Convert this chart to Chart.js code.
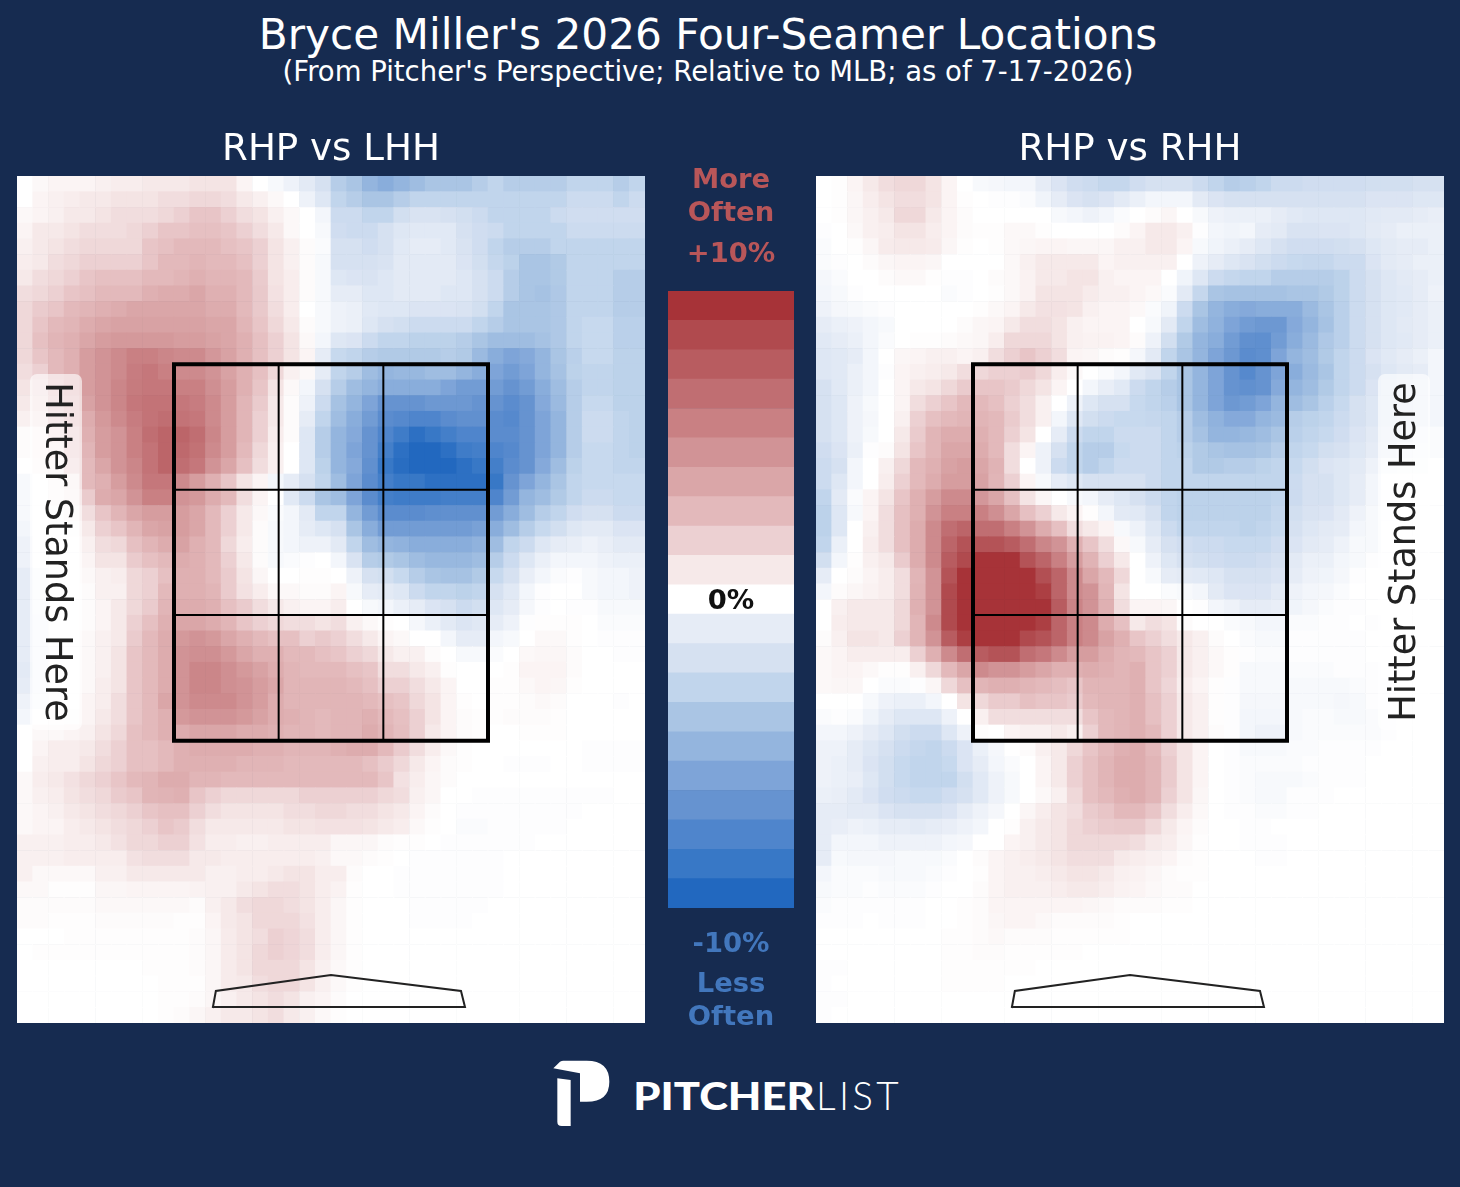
<!DOCTYPE html>
<html>
<head>
<meta charset="utf-8">
<title>Bryce Miller Four-Seamer Locations</title>
<script src="https://cdn.jsdelivr.net/npm/chart.js@4"></script>
<style>
  html, body { margin: 0; padding: 0; background: #162b50; }
  #page { position: relative; width: 1460px; height: 1187px; overflow: hidden; background: #162b50; font-family: "DejaVu Sans", sans-serif; color: #fff; }
  .box { position: absolute; }
  .txt { position: absolute; left: 0; width: 1416px; text-align: center; line-height: 1; white-space: nowrap; }
  .key { position: absolute; left: 631px; width: 200px; text-align: center; line-height: 1; font-weight: bold; font-size: 27.4px; }
  .more { color: #b85659; }
  .less { color: #4277bd; }
</style>
</head>
<body>
<div id="page">
  <div class="txt" style="top:14px;font-size:42.2px">Bryce Miller's 2026 Four-Seamer Locations</div>
  <div class="txt" style="top:58px;font-size:27.5px">(From Pitcher's Perspective; Relative to MLB; as of 7-17-2026)</div>

  <div class="box" style="left:17px;top:125px;width:628px;height:898px"><canvas id="leftChart"></canvas></div>
  <div class="box" style="left:816px;top:125px;width:628px;height:898px"><canvas id="rightChart"></canvas></div>
  <div class="box" style="left:668px;top:291px;width:126px;height:617px"><canvas id="barChart"></canvas></div>

  <div class="key more" style="top:165px">More</div>
  <div class="key more" style="top:198px">Often</div>
  <div class="key more" style="top:239px">+10%</div>
  <div class="key" style="top:586px;color:#111">0%</div>
  <div class="key less" style="top:929px">-10%</div>
  <div class="key less" style="top:969px">Less</div>
  <div class="key less" style="top:1002px">Often</div>

  <svg class="box" style="left:530px;top:1040px" width="400" height="110" viewBox="0 0 1200 330">
    <path fill="#fff" d="M70,85 L90,65 Q95,62 100,62 L170,62 Q238,62 238,125 Q238,185 170,185 L150,185 L150,100 Z"/>
    <path fill="#fff" d="M82,115 L122,120 L122,258 L95,258 Q82,258 82,245 Z"/>
    <text x="310" y="210" font-family="Lato, sans-serif" font-weight="900" font-size="116" fill="#fff" textLength="544" lengthAdjust="spacingAndGlyphs">PITCHER</text>
    <text x="858" y="210" font-family="Lato, sans-serif" font-weight="300" font-size="116" fill="#fff" textLength="248" lengthAdjust="spacing">LIST</text>
  </svg>
</div>

<script>
// ── Data ──────────────────────────────────────────────────────────────────────
// percent above/below MLB per cell, top row first; a short row is 0 to its end
const leftCells = [
  [0,.3,.5,.5,.5,.7,.8,.8,1,1,1,1.2,1.2,1.2,.5,0,-.3,-.7,-1.2,-2,-3.5,-4,-5,-5.5,-5,-4.5,-4,-4,-4,-3.5,-3,-3.5,-3.5,-3.5,-3.5,-3,-3,-3,-3.5,-3],
  [0,.5,.7,.8,1,1,1.2,1.2,1.2,1.5,1.5,1.7,1.7,1.5,1,.7,.3,0,-.7,-1.5,-3,-3.5,-4,-4,-3.5,-3,-3,-3,-3,-3,-3,-3,-3,-3,-3,-2.5,-2.5,-2.5,-3,-2.5],
  [.3,.5,.7,1,1,1.2,1.5,1.5,1.5,1.7,2,2.5,2.5,2,1.5,1.2,.7,.3,0,-.5,-2.5,-2.5,-3,-3,-2.2,-1.8,-1.8,-2,-2.2,-2.5,-3,-3,-3,-3,-2.5,-2.3,-2.3,-2.3,-2.3,-2.3],
  [.5,1,1,1.2,1.5,1.5,1.5,1.7,2,2.5,2.5,2.7,2.7,2.5,2,1.5,1,.3,0,-.3,-2.3,-2.5,-2.5,-2,-1.5,-1.3,-1.3,-1.3,-2,-2.3,-2.5,-3,-3,-3,-3,-2.5,-2.5,-2.5,-2.5,-2.5],
  [.7,1,1.2,1.5,1.7,1.7,1.7,1.7,2.5,2.7,3,3,3,2.7,2.5,2,1.2,.7,.2,-.2,-2,-2,-2.3,-2,-1.3,-1,-1,-1.3,-1.8,-2.3,-3,-3.5,-3.5,-3.5,-3,-3,-3,-3,-3,-3],
  [.8,1,1.5,1.7,2,2,2,2,2.5,3,3,3.2,3,3,2.7,2,1.2,.7,.2,-.3,-2,-2,-2,-1.8,-1.2,-1.2,-1.2,-1.2,-1.7,-2.2,-2.8,-3.2,-4,-4,-3.7,-3,-3,-3,-3,-3],
  [1,1.5,1.7,2,2.5,2.7,2.7,2.7,3,3,3.2,3.5,3.2,3.2,3,2.2,1.2,.8,.2,-.3,-1.5,-1.7,-1.8,-1.5,-1.2,-1.2,-1.2,-1.2,-1.5,-2,-2.5,-3.5,-4,-4,-3.7,-3,-3,-3,-3.5,-3.5],
  [1.5,1.7,2,2.5,2.7,3,3,3,3.5,3.7,3.7,4,3.5,3.5,3,2.3,1.3,.8,.2,-.3,-1,-1,-1.5,-1.5,-1.2,-1.2,-1.2,-1.5,-1.5,-2,-2.5,-3.5,-4,-4.2,-3.8,-3,-3,-3,-3.5,-3.5],
  [1.7,2.2,2.5,3,3.2,3.5,3.7,4,4,4,4,4,3.7,3.7,3,2.3,1.5,.8,0,-.3,-.7,-.8,-1.3,-1.5,-1.5,-1.7,-1.7,-1.7,-1.8,-2.2,-3,-4,-4,-4,-3.8,-3,-3,-3,-3.5,-3.5],
  [1.7,2.5,3,3.2,3.7,4,4.2,4.2,4.2,4.2,4.2,4.2,4,4,3.2,2.5,1.7,1,.2,-.3,-.7,-.8,-1.5,-2,-2.2,-2.5,-2.5,-2.5,-2.5,-3,-3.5,-4,-4,-4,-3.8,-3,-2.7,-2.7,-3.3,-3.3],
  [1.7,2.7,3.2,3.5,4,4.5,4.7,4.7,4.7,4.7,4.5,4.5,4.2,4,3.5,2.7,2,1.2,.3,-.5,-1.5,-1.7,-2.5,-3,-3,-3.2,-3.2,-3.2,-3.5,-4,-4.5,-4.5,-4.5,-4.2,-3.8,-3,-2.7,-2.7,-3.3,-3.3],
  [1.7,2.5,3,3.5,4.5,5,5.5,6,6,5.7,5.5,5.5,4.8,4.2,3.5,2.7,2,1.2,.5,-1,-2.7,-3,-3.5,-3.7,-3.7,-3.7,-3.7,-3.5,-3.7,-4.7,-5.5,-6,-5.7,-5,-4,-3.3,-2.7,-2.7,-3.2,-3.2],
  [1.5,2,3,3.5,4.5,5,5.5,6.2,6.5,6,5.5,5.5,5,4.2,3.5,2.7,1.7,.7,.3,-1,-3,-3.5,-4.5,-5,-4.8,-4.8,-4.5,-4.5,-5,-5.5,-6,-6.5,-6,-5,-4.2,-3.2,-3,-3,-3.2,-3.2],
  [1.2,1.7,2.7,3.5,4.5,5,5.7,6.3,6.5,6.5,6,6,5.2,4.5,3.5,2.5,1.2,.3,-.5,-2,-3.5,-4.5,-5,-5.5,-5.5,-5.5,-5.5,-6,-6.5,-6.5,-6.5,-7,-6.5,-5.5,-4.5,-3.5,-3,-3,-3.2,-3.2],
  [1,1.5,2.5,3,4.2,5,5.7,6.5,6.7,6.7,6.5,6.2,5.5,4.5,3.2,2.2,1,.2,-.7,-2.5,-4.2,-5,-6,-7,-7,-7,-6.7,-6.7,-6.7,-7,-7,-7.5,-7,-5.7,-4.7,-3.5,-2.7,-2.7,-3.2,-3.2],
  [.7,1.2,2.2,3,3.7,4.7,5.5,6.2,6.7,7,6.7,6.5,5.5,4.5,3.2,2,1,.2,-1,-3,-4.5,-5.5,-6.5,-7.5,-7.7,-8,-8,-7.5,-7.2,-7.2,-7.5,-7.7,-7,-6,-5,-3.5,-2.5,-2.5,-3,-3.2],
  [.2,.5,1.5,2.5,3.5,4.5,5,6,7,7.5,7.5,7,5.7,4.5,3.2,2,.8,.2,-1.5,-3.5,-5,-5.7,-7,-8,-8.7,-9.5,-9,-8.5,-8,-8,-7.5,-7.5,-7,-6,-5,-3.5,-2.5,-2.5,-3,-3.2],
  [.2,.5,1,2.5,3.2,4.5,5,6,6.7,7.5,7.3,6.8,5.5,4.5,3,1.7,.7,0,-1.5,-3.5,-5,-6,-7,-8.5,-9.5,-10,-10,-9.5,-8.7,-8.5,-8,-7.7,-7,-6,-5,-3.5,-2.7,-2.7,-3,-3.2],
  [0,.3,.5,2,3,4,5,5.7,6.7,7.5,7,6.5,5,4,2.7,1.5,.7,0,-1.5,-3.2,-5,-5.7,-7.2,-9,-9.7,-10,-10,-10,-9.5,-9,-8.5,-7.5,-7,-5.7,-4.5,-3.2,-2.7,-2.7,-3,-3],
  [-.3,0,.3,.8,3,3.5,4.5,5.5,6.5,6.5,5.5,4.5,3.5,2.5,1.2,.5,-.5,-1,-2,-3,-4.5,-6,-7.5,-8.5,-9,-9,-9.5,-9.5,-9.5,-9.5,-9,-7,-6,-5,-4,-3,-2.7,-2.7,-2.7,-2.7],
  [-.3,0,.3,.7,2.2,3.7,4,5,6,6,5,4.7,3.7,3,1.5,.5,0,-1.3,-2.5,-4,-4.5,-6,-7.5,-8.5,-8.7,-8.7,-8.7,-8.5,-8.5,-8.5,-8,-6.5,-5,-4.5,-3.7,-3,-2.5,-2.5,-2.7,-2.7],
  [-.3,0,0,.4,1.5,2.5,3.2,4,4.5,4.5,4.5,4,3,2,1,.3,-.2,-.5,-1.2,-3,-3,-5,-6.5,-7.5,-7.5,-7.5,-7.3,-7.2,-7.2,-7.2,-6.5,-5.5,-4.5,-3.5,-3,-2.3,-2,-2,-2.5,-2.5],
  [-.5,0,0,.2,1,2,2.5,3.2,4,4.2,4.5,4,3,2,1,.2,-.3,-.5,-1,-1.5,-2,-4,-5.5,-6.5,-6.5,-6.5,-6.5,-6.5,-6.5,-6.2,-5.5,-4.5,-3.5,-2.7,-2.2,-1.5,-1.2,-1.2,-1.7,-1.7],
  [-.7,0,0,0,.7,1.5,1.7,2.7,3.2,3.7,4.2,3.5,3,1.7,.8,.2,-.3,-.5,-.7,-.7,-1.2,-3,-4.5,-5,-5.2,-5.5,-5.5,-5.5,-5.5,-5.2,-4.5,-3,-2.5,-1.5,-1,-.9,-.7,-.9,-1.2,-1.2],
  [-.7,0,0,0,.5,1.2,1.2,2.2,2.7,3,3.7,3.5,3,2,1,.2,-.3,-.2,-.1,0,-.5,-1.8,-3.5,-3.7,-4,-4.5,-4.8,-4.8,-4.8,-4.5,-3.5,-2.5,-1.5,-.8,-.5,-.5,-.5,-.7,-.8,-.8],
  [-1,-.3,0,0,.3,.7,.8,1.7,2,2.7,3.5,3.5,3,2.2,1.2,.4,0,0,.1,.1,0,-.7,-2,-2.2,-2.7,-3.5,-4,-4.2,-4.2,-3.7,-2.7,-2,-.9,-.5,-.2,-.1,-.3,-.5,-.5,-.7],
  [-1,-.3,0,0,.2,.7,.7,1.7,2,3,3.5,3.5,3.2,2.2,1.3,.8,.3,.3,.2,.2,.5,-.3,-1,-1.2,-1.5,-2.5,-3,-3,-3.2,-3,-2,-1.3,-.5,-.1,0,0,-.3,-.5,-.5,-.7],
  [-1,-.3,0,0,.2,.5,1,1.7,2.2,3.2,3.7,3.7,3.5,2.7,2.2,1.5,1,.7,.5,.5,.8,0,-.3,-.5,-.8,-1,-1.7,-2,-2.5,-2.2,-1.5,-1,-.4,-.1,0,-.1,-.1,-.3,-.3,-.3],
  [-1,-.5,0,0,.2,.5,1,2,2.7,3.5,4,4,3.7,3.2,2.5,2,1.7,1.5,1.5,1.2,1.5,.7,.3,.1,0,-.4,-.8,-1.2,-1.6,-1.4,-1,-.7,-.1,.1,.1,.1,0,-.2,-.2,-.2],
  [-1,-.5,0,0,.3,.7,1,2.2,3,3.7,4.7,5,4.7,4,3.5,3,2.7,2.7,2,2.3,2,1.5,1,.5,.3,0,0,-.5,-1,-1,-.5,-.3,0,.3,.3,.1,0,-.1,-.1,-.1],
  [-1,-.5,-.1,0,.3,.7,1.2,2.5,3,3.7,5,5.2,5.2,4.7,4,3.5,3.5,3,3,2.7,2.5,2,1.7,1,.7,.7,.2,0,-.3,-.3,-.2,0,.3,.4,.4,.2,0,0,-.1,-.1],
  [-1.2,-.5,0,0,.3,.7,1.2,2.5,3,3.7,5,5.7,5.7,5.2,4.7,4.2,3.7,3.2,3,3,3,2.7,2.5,1.5,1.5,1,.7,.1,0,0,0,.1,.5,.5,.5,.2],
  [-1,-.5,0,0,.3,.8,1.2,2.5,3,3.7,5,5.7,5.7,5.2,5,4.5,4,3.2,3.2,3.2,3.2,3,2.7,2,2,1.5,1,.5,0,0,.1,.1,.3,.5,.4,.1],
  [-.7,-.3,0,0,.5,.8,1.5,2.5,3,4,5,5.5,5.5,5.5,5,4.5,3.7,3.2,3.2,3.2,3.2,3.2,3,2.7,2.5,1.7,1.2,.5,.1,0,.1,.1,.2,.3,.2,0,0,0,-.1],
  [-.5,0,.1,.2,.5,1,1.5,2.5,3,3.5,4.7,5,5,5,4.7,4.2,3.7,3.5,3.2,3,3.2,3.2,3.5,3,2.7,2,1.2,.5,.2,.1,.1,.2,.2,.2,.1],
  [0,.3,.3,.5,.7,1.2,1.7,2.7,3,3.5,3.7,4,4,4,3.7,3.7,3.5,3.2,3.2,3,3.2,3.2,3.7,3.2,2.8,2,1,.5,.2,.1,0,0,.1,.1,.1],
  [0,.5,.8,.8,1,1.5,2,2.7,2.7,3,3.5,3.7,3.7,3.7,3.7,3.5,3.5,3.2,3.2,3.2,3.5,3.7,3.7,3,2.2,1.5,.8,.3,.1,0,0,0,0,0,0,0,-.1,-.1,-.1,-.1],
  [0,.7,.8,.8,1.2,1.7,2,2.7,2.7,3,3.5,3.5,3.5,3.5,3.2,3.2,3.2,3,3,3,3,3,2.7,2.2,1.7,1,.5,.2,.1,0,0,-.1,-.1,-.1,0,0,-.1,-.1,-.1,-.1],
  [.3,.8,1,1.3,1.7,2,2.5,3,3.2,3.7,3.7,3.2,3.2,3,3,3,3,3,3,3,3,3,3,2.5,1.3,.8,.4,.2],
  [.3,.7,.8,1.2,1.5,1.7,2.2,2.5,3.2,3.3,3.5,2.5,2,1.7,1.7,1.7,1.7,1.7,2,2,2,2,2,1.7,1.5,.7,.4,0,0,-.1,-.1,-.1,-.1,-.1,-.1,-.1,-.1,-.1],
  [.3,.5,.7,1,1.2,1.5,1.7,2,2.5,2.7,2.7,2,1.5,1.2,1.2,1.2,1.2,1.5,1.5,1.7,1.7,1.5,1.5,1.2,1,.5,.2,0,-.1,-.1,-.1,-.1,-.1,-.1,-.1,-.1],
  [.3,.5,.5,.8,1,1.2,1.5,1.7,2,2.5,2.2,1.5,1,1,1,1,1,1.2,1.2,1.3,1.3,1.3,1.2,1,.8,.3,.1,0,-.2,-.2,-.1,-.1,-.1,-.1,-.1],
  [.7,.7,.7,.8,.8,1,1.3,1.7,1.7,2,2,1.3,.8,.8,.7,.7,.8,.8,.8,.8,.4,.4,.4,.2,.1,.1,0,-.1,-.1,-.1,-.1,-.1,-.1],
  [.7,.7,.7,.8,.8,.8,.8,1.3,1.5,1.5,1.5,1,1,.8,.8,.8,.8,.8,.8,.7,.3,.3,.2,.1,0,-.1,-.1,-.1,-.1,-.1,-.1],
  [.7,.3,.3,.3,.3,.7,.7,1,1,1,1,1,.7,.7,.8,.8,1,1.2,1.2,.8,.8,.2,0,0,-.1,-.1,-.1,-.1,-.1,-.1,-.1],
  [.3,.3,.1,.1,.1,.4,.4,.5,.5,.5,.5,.6,.7,.7,1,1.2,1.5,1.5,1.2,.8,.6,.1,0,0,-.1,-.1,-.1,-.1,-.1,-.1,-.1],
  [.2,.2,.2,.2,.2,.3,.3,.3,.3,.3,.3,.2,.7,1,1.5,1.7,1.7,1.5,1.2,.8,.4,.1,0,0,0,-.1,-.1,-.1,-.1,-.1],
  [.2,.2,.1,.1,.1,.2,.2,.2,.2,.2,.1,.1,.5,1,1.2,1.7,1.7,1.7,1.3,.8,.4,.1,0,0,0,-.1,-.1,-.1,-.1],
  [0,0,0,.1,.1,.1,.1,.1,.1,.1,.1,.2,.4,.9,1.2,1.5,2,1.8,1.5,.8,.4,.1],
  [0,.1,.1,.1,.1,.1,.1,.1,.1,.1,.1,.2,.4,.9,1.2,1.7,2,1.8,1.5,.8,.4,.1],
  [0,0,0,0,0,0,0,0,.1,.1,.1,.2,.4,.9,1.2,1.7,1.7,1.7,1.2,.7,.3,.1],
  [0,0,0,0,0,0,0,0,0,.1,.1,.1,.4,.9,1,1.5,1.7,1.7,1.2,.7,.3,.1],
  [0,0,0,0,0,0,0,0,0,.1,.1,.2,.4,.7,1,1.2,1.5,1.2,.7,.5,.2],
  [0,0,0,0,0,0,0,0,0,.1,.2,.4,.7,1,1,1.2,1.5,1,.7,.3,.1]
];
const rightCells = [
  [0,.1,.5,1,1.5,1.7,1.7,1.2,.5,0,-.3,-.4,-.5,-.5,-1,-1.7,-2.3,-2.5,-2.8,-2.8,-2.3,-2,-2,-2,-2.5,-3,-3.5,-3.3,-3,-2.5,-2.5,-2.3,-2.3,-2.3,-2.3,-2.2,-2.2,-2.2,-2,-2],
  [0,.1,.4,.8,1.2,1.5,1.5,1.2,.5,.1,0,-.1,-.1,-.2,-.6,-1,-1.7,-2,-1.7,-1.2,-.8,-.5,-.5,-.5,-1.2,-1.7,-2,-2,-2,-2,-2,-2,-2,-2,-2,-1.7,-1.7,-1.7,-1.5,-1.5],
  [0,.1,.4,.7,1,1.7,1.7,1,.5,.2,0,0,0,0,0,-.3,-.5,-.7,-.5,-.2,0,.2,.4,0,-.3,-.7,-.8,-.8,-.8,-1,-1.3,-1.5,-1.5,-1.5,-1.5,-1.3,-1.2,-1.2,-1,-.9],
  [-.1,0,.3,.7,.8,1.2,1.2,.8,.5,.2,.1,.1,.3,.3,.1,0,0,0,0,.2,.5,1,1,.7,-.1,-.5,-.6,-.5,-1,-1.2,-1.8,-1.8,-1.7,-1.7,-1.5,-1.2,-1,-.8,-.8,-.8],
  [-.2,0,.1,.4,.9,1,1,.9,.4,.1,0,.1,.3,.4,.5,.5,.4,.4,.4,.7,.7,1,1,.5,-.3,-.6,-.8,-1,-1.5,-2,-2.3,-2.3,-2.3,-2.2,-2,-1.5,-1.2,-1,-1,-.8],
  [-.2,-.1,0,.2,.4,.5,.5,.4,0,0,0,0,.3,.7,1,1,1,1,.5,.7,.7,.7,.7,0,-.7,-1,-1.5,-1.8,-2.2,-2.5,-2.7,-2.8,-2.8,-2.5,-2.5,-1.7,-1.2,-1,-.8,-.8],
  [-.4,-.2,0,0,.2,.3,.3,.1,-.1,-.1,0,.2,.3,.6,1,1,1.2,1.2,.7,.5,.5,.5,0,-.6,-1.5,-2.5,-2.8,-3,-3,-3.5,-3.5,-3.5,-3.5,-3.2,-2.5,-2,-1.5,-1.2,-1,-.8],
  [-.5,-.3,-.1,0,0,0,0,0,-.2,-.1,0,.1,.3,.6,1.2,1.2,1.2,.9,.7,.7,.5,.3,-.2,-1.2,-2.8,-4,-4.2,-4.2,-4.2,-4.2,-4,-4,-3.7,-3.2,-2.5,-2,-1.5,-1.3,-1,-.7],
  [-.7,-.4,-.3,-.2,-.1,0,0,0,0,0,.1,.3,.5,1,1.3,1.3,1.2,.7,.5,.5,.3,-.2,-.6,-2.5,-4,-5,-5.5,-5.7,-5.5,-5.5,-5.5,-4.7,-4,-3.3,-2.5,-2,-1.5,-1.3,-1,-.8],
  [-1,-.8,-.7,-.5,-.3,0,0,0,0,.2,.4,.5,1,1.5,1.5,1.2,.7,.5,.5,.5,0,-.3,-1.2,-3,-4.5,-5.2,-6,-6.5,-6.7,-6.7,-5.7,-5,-4.2,-3.3,-2.5,-2,-1.5,-1.2,-1,-.8],
  [-1.3,-1,-.8,-.5,-.2,0,.1,.1,.2,.3,.4,.8,1.7,1.7,1.7,1.2,.7,.6,.6,.5,.2,-.7,-2.2,-3.7,-5,-5.5,-6.5,-7.2,-7.3,-6.5,-5.5,-4.7,-3.8,-3.3,-2.5,-2,-1.5,-1.3,-1,-.8],
  [-1.5,-1.3,-1,-.5,0,.4,.5,.7,.7,.5,.7,1.5,2,2.5,2,1.5,.5,.4,.2,.1,-.4,-1.2,-3,-4,-5,-6,-6.7,-7.5,-7.3,-6,-5,-4.5,-3.7,-3,-2.5,-1.7,-1.3,-1,-.8,-.5],
  [-1.5,-1.3,-.8,-.5,-.1,.5,.7,.8,1,1.5,1.7,2,2,2.2,1.7,.8,.3,0,-.2,-.5,-1.3,-1.8,-3,-4,-5,-6,-7,-7.7,-7,-6,-5.5,-4.7,-4,-3,-2.5,-2,-1.5,-1.2,-1,-.5],
  [-2,-1.3,-.8,-.5,0,.5,1,1.2,1.7,2.2,2.5,2.5,2.2,1.7,1.2,.5,0,-.5,-.9,-1.3,-2.5,-3,-3.5,-4,-5,-6,-7,-7.2,-7,-5.7,-5,-4.5,-3.7,-3,-2.5,-1.7,-1.3,-1,-.8,-.5],
  [-2,-1.5,-.7,-.3,0,.5,1.5,2,2.5,3,3,2.7,2,1.5,.7,0,-.7,-1.5,-2,-2,-2.7,-3,-3.3,-4,-5,-6,-6.7,-6.5,-6,-5,-4.5,-4,-3.3,-2.7,-2,-1.5,-1.2,-1,-.8,-.5],
  [-2,-1.5,-.7,-.4,0,.7,2,2.7,3,3.2,3.2,3,2.2,1.5,.7,-.5,-1.5,-2.2,-2.5,-2.7,-2.7,-2.8,-3,-3.5,-4.5,-5.2,-5.7,-5.7,-5,-4.7,-3.5,-3.2,-3,-2.5,-2,-1.5,-1.2,-1,-.8,-.5],
  [-2,-1.5,-.7,-.3,0,1,2.2,3.2,3.7,3.7,3.5,3,2,1.2,0,-1,-2.5,-3,-3,-2.5,-2.5,-2.5,-3,-3.5,-4.2,-5,-5,-4.8,-4.5,-4,-3.3,-3,-2.7,-2.3,-1.7,-1.2,-1,-.8,-.5,-.2],
  [-2.3,-1.7,-.8,-.1,.2,1.2,2.5,3.2,4,4,3.7,3,1.5,.5,-.7,-2,-3,-3.5,-3.5,-2.7,-2.5,-2.5,-3,-3.2,-3.7,-4,-4.2,-4.2,-4,-3.5,-3,-2.7,-2.2,-2,-1.5,-1,-.8,-.5,-.3,-.2],
  [-2.5,-2,-.5,0,.7,1.7,3,3.5,4.2,4.5,4,3.3,1.5,0,-.7,-2.5,-3,-3.5,-3,-2.5,-2.5,-2.5,-3,-3,-3.7,-3.7,-3.5,-3.5,-3.2,-3,-2.7,-2.2,-1.7,-1.5,-1.2,-.7,-.3,-.2,-.2,0],
  [-2.5,-1.5,-.5,0,.8,2,3,3.7,4.5,4.5,4.2,3.2,2,.5,-.3,-1,-1.5,-2,-2,-2,-2,-2.5,-3,-3,-3,-3,-3,-3,-3,-3,-2.5,-2,-2,-1.5,-1,-.5],
  [-3,-1.2,-.2,.5,1.2,2.5,3.5,4.5,5.5,5.5,4.8,4,2.7,1.2,.4,0,-.3,-.5,-1,-1.5,-2,-2.5,-3,-3.2,-3.2,-3.2,-3.2,-3.2,-3.2,-3,-2.5,-2,-2,-1.5,-1,-.5,-.1],
  [-3.2,-1.5,-.3,.5,1.5,2.7,3.5,5,6,6,6,5.2,4,2.7,2,1,.5,.1,-.5,-1.2,-1.3,-2,-3,-3.2,-3.2,-3.2,-3.2,-3.2,-3.2,-2.8,-2.2,-1.8,-1.7,-1.2,-.7,-.3,-.1],
  [-3.2,-1.5,0,.7,1.5,2.7,3.7,5.5,7,7.5,7,7,6,5,3.7,2.7,1.5,1,.5,-.3,-.7,-1.5,-2.5,-3,-3,-3,-3,-3.2,-3,-2.7,-2,-1.5,-1.2,-1,-.5,-.3],
  [-3,-.8,0,.8,1.5,2.7,3.7,5.5,7.5,8.5,8.5,8.5,8,7,5.7,5,3.5,2.5,1.5,.3,-.3,-1,-2,-2.3,-2.5,-2.5,-2.7,-2.7,-2.7,-2.3,-1.7,-1.2,-1,-.7,-.3,-.3],
  [-2.2,-.5,.1,.7,1,2.2,3.7,5.5,8,9,10,10,10,8.5,7.5,6,4.5,3.3,2,1,0,-.7,-1.5,-2,-2.2,-2.3,-2.5,-2.5,-2.3,-2,-1.2,-.8,-.8,-.5,-.3,-.1],
  [-1,0,.2,.5,.8,1.5,3.2,5,8.5,10,10,10,10,10,8.7,7.5,5.5,4,3,1.7,0,-.3,-1,-1.2,-1.3,-1.5,-2,-2,-2,-1.7,-1,-.7,-.6,-.4,-.1],
  [-.5,.2,.4,.6,.8,1.5,3.3,5,9,10,10,10,10,10,9.5,7.5,5.5,5,3.2,1.2,0,0,-.2,-.3,-.5,-1.2,-1.7,-1.7,-1.7,-1.2,-.7,-.5,-.4,-.2],
  [0,.7,1,1,1,1.7,3.5,5,9,10,10,10,10,10,10,8,5.8,5,3.5,1.5,.5,.5,.4,0,-.1,-.5,-.7,-1,-1,-.9,-.6,-.4,-.2,-.1,-.1],
  [0,.8,1,1,1,1.7,3.2,5.5,9,10,10,10,10,10,9.5,7.5,6,5.5,3.7,2.7,1,1.5,1.2,.2,0,0,-.2,-.3,-.5,-.5,-.2,-.2,-.1,-.1,0,-.1],
  [.2,.7,1.2,1.2,1,2,3.2,5,8,9.5,10,10,10,9,8.5,7.5,6,5.5,4.2,3.5,2.5,2,1.5,1,.7,.2,0,-.2,-.3,-.3,-.1,-.1,-.1,-.1,-.1],
  [.3,.5,.8,.8,.8,.8,2,3.5,5.5,7,8,8.5,8.5,7,6.5,5.5,4.5,4.5,3.7,3.2,3,2.5,2,1,.7,.3,.1,-.1,-.2,-.2,-.1,-.1,-.1,-.1,-.1],
  [.3,.5,.5,.3,.1,.1,.7,1.7,3,4,5.5,5,5,4.5,4,3.5,3.5,3.7,3.5,3.2,3.5,2.5,2,1,.7,.3,.1,-.3,-.3,-.3,-.2,-.2,-.2,-.1,-.1,-.1],
  [.3,.4,.4,0,-.2,-.2,-.1,.4,1.7,2.7,3.2,3.5,3.5,3.2,3,2.8,2.5,3.2,3.2,3.2,3.5,2.5,1.8,.8,.5,.1,-.1,-.3,-.3,-.3,-.3,-.3,-.3,-.3,-.2,-.1,-.1],
  [0,0,0,-.3,-.7,-.8,-.8,-.5,0,1.2,1.7,2.2,2.2,2.7,2.5,2.5,2.2,3,3.2,3.2,3.5,2.7,2,1,.7,.1,-.1,-.4,-.4,-.4,-.3,-.3,-.3,-.4,-.3,-.1,-.1],
  [-.2,-.1,-.2,-.6,-1,-1.5,-1.5,-1.5,-.7,0,.7,1.5,1.5,1.5,1.5,1.5,1.5,2.5,3,3.2,3.5,2.7,2,1,.7,.1,-.1,-.5,-.5,-.5,-.3,-.2,-.2,-.3,-.3,-.2,-.1],
  [-.5,-.5,-.7,-1,-1.5,-2.2,-2.5,-2.5,-1.5,-.7,.1,0,.5,.7,.7,1,.7,2,3,3.2,3.5,3,2,1,.7,.2,-.1,-.5,-.7,-.7,-.3,-.2,-.2,-.2,-.2,-.2,-.1],
  [-.7,-.7,-1,-1.5,-2,-2.5,-2.8,-3,-2.5,-1.7,-.8,-.4,0,.2,.7,1,1.7,2.5,3,3.5,3.7,3,2,1.2,.5,0,-.1,-.3,-.3,-.3,-.2,-.2,-.1,-.1,-.1,-.1],
  [-.7,-.8,-1,-1.7,-2.2,-2.7,-3,-3,-2.7,-1.7,-1,-.5,-.2,0,.5,1,2,2.7,3.2,3.7,3.7,3.2,2.2,1.2,.5,0,-.1,-.2,-.2,-.2,-.2,-.1,-.1,-.1,-.1],
  [-.7,-.8,-.9,-1.5,-2.2,-2.7,-3,-3,-3,-2.2,-1.3,-.7,-.3,0,.5,1,2,2.7,3.2,3.7,3.7,3.2,2.2,1.2,.5,0,-.1,-.2,-.3,-.3,-.3,-.2,-.1,-.1,-.1],
  [-.8,-.9,-1.2,-1.7,-2.3,-2.5,-2.7,-2.7,-2.3,-2,-1.3,-.7,-.3,0,.3,.7,1.7,2.7,3,3.5,3.7,3.2,2,1.2,.4,0,-.1,-.2,-.3,-.3,-.1,-.1,-.1],
  [-1,-1,-1.2,-1.2,-1.7,-2,-2,-2,-1.7,-1,-.7,-.4,0,.4,.8,1.2,1.5,2.2,2.5,3,3,2.5,1.5,.8,.3,0,-.1,-.1,-.2,-.2,-.1,-.1],
  [-1,-.9,-.7,-.8,-1,-1,-1.2,-1,-.9,-.7,-.5,0,.1,.7,1,1.2,1.7,2,2.2,2.3,2.3,1.7,1,.5,.2,0,0,-.1,-.1],
  [-1,-.5,-.5,-.5,-.7,-.7,-.7,-.7,-.5,-.4,0,0,.5,.7,1,1.2,1.7,1.7,1.7,1.7,1.5,1,.8,.4,.1,0,0,-.1,-.1,-.1],
  [-1,-.3,-.4,-.4,-.4,-.3,-.3,-.3,-.2,0,.2,.5,.7,.8,1,1.2,1.5,1.5,1.5,1,.8,.7,.5,.2,.1,0,0,0,-.1,-.1],
  [-.5,-.2,-.2,-.2,-.3,-.3,-.3,-.2,-.1,0,.1,.5,.7,.7,.8,1,1.2,1.2,1,.7,.6,.4,.2,.1,.1],
  [-.3,-.2,-.2,-.1,-.2,-.2,-.2,-.1,0,0,.2,.5,.7,.7,.7,.8,1,1,.8,.6,.5,.3,.2,.2],
  [-.2,-.1,-.1,-.1,-.1,-.1,-.1,0,0,.1,.2,.5,.5,.5,.5,.5,.5,.4,.3,.2,.2,.2,.1,.1],
  [-.1,-.1,-.1,0,-.1,-.1,-.1,0,0,.1,.2,.4,.5,.5,.3,.2,.2,.2,.2,.1],
  [0,0,0,0,0,0,0,0,.1,.1,.2,.3,.2,.2,.2,.1,.1,.1,.1,.1],
  [0,0,0,0,0,0,0,0,.1,.1,.2,.2,.1,.1,.1,.1,.1],
  [-.1,-.1,0,0,0,0,0,0,.1,.1,.1,.1,.1,.1],
  [-.1,0,0,0,0,0,0,0,.1,.1,.1,.1],
  [-.1,-.1],
  [-.1]
];
const columns   = Array.from({ length: 40 }, (_, i) => i);
const barLevels = [10,9,8,7,6,5,4,3,2,1,0,-1,-2,-3,-4,-5,-6,-7,-8,-9,-10];
const palette   = ["#2268bf","#3878c6","#4f85cc","#6693d0","#7ea4d8","#94b5de","#aac5e4","#c1d5ec","#d6e1f1","#e6ecf6",
                   "#ffffff",
                   "#f6e9e9","#ecd0d2","#e3b9bb","#daa6a8","#d19396","#c98083","#c06e72","#b85c60","#b04a4e","#a73338"];

// strike zone and plate, in feet
const zoneX  = [-.75,-.25,.25,.75];
const zoneY  = [1.5,2.167,2.833,3.5];
const plateX = [-.564,.64,.621,0,-.55,-.564];
const plateY = [.085,.085,.17,.255,.17,.085];

// ── Colours ───────────────────────────────────────────────────────────────────
const hex = s => [1,3,5].map(p => parseInt(s.substr(p,2),16));
function colorFor(v) {
  const t = Math.max(-10, Math.min(10, v)) + 10;
  const lo = Math.min(19, Math.floor(t));
  const a = hex(palette[lo]), b = hex(palette[lo+1]);
  return "rgb(" + a.map((c,k) => Math.round(c + (b[k]-c)*(t-lo))).join(",") + ")";
}

// ── Datasets ──────────────────────────────────────────────────────────────────
const lineSet = (xs, ys, width, color) => ({
  type: "line", xAxisID: "xf", yAxisID: "yf", order: 0,
  data: xs.map((x,i) => ({ x, y: ys[i] })),
  borderColor: color, borderWidth: width, pointRadius: 0, tension: 0,
  borderJoinStyle: "miter", borderCapStyle: "square", fill: false,
});

function panelDatasets(cells) {
  // bottom row goes first so the stack builds up to the top row
  const rows = [...cells].reverse().map(row => ({
    type: "bar", order: 1, grouped: false,
    data: columns.map(() => 1),
    backgroundColor: columns.map(i => colorFor(row[i] || 0)),
    borderWidth: 0, barPercentage: 1, categoryPercentage: 1,
  }));
  const inner = [
    lineSet([zoneX[1],zoneX[1]], [zoneY[0],zoneY[3]], 2, "#000"),
    lineSet([zoneX[2],zoneX[2]], [zoneY[0],zoneY[3]], 2, "#000"),
    lineSet([zoneX[0],zoneX[3]], [zoneY[1],zoneY[1]], 2, "#000"),
    lineSet([zoneX[0],zoneX[3]], [zoneY[2],zoneY[2]], 2, "#000"),
  ];
  const outer = lineSet([zoneX[0],zoneX[3],zoneX[3],zoneX[0],zoneX[0]], [zoneY[0],zoneY[0],zoneY[3],zoneY[3],zoneY[0]], 4, "#000");
  const plate = lineSet(plateX, plateY, 2, "#222");
  return [...rows, ...inner, outer, plate];
}

// ── Hitter label ──────────────────────────────────────────────────────────────
const hitterLabel = {
  id: "hitterLabel",
  afterDatasetsDraw(chart, args, opts) {
    const { ctx, chartArea: a } = chart;
    const cx = opts.side === "left" ? a.left + 39 : a.right - 40;
    const cy = a.top + 376;
    ctx.save();
    ctx.translate(cx, cy);
    ctx.rotate(opts.side === "left" ? Math.PI/2 : -Math.PI/2);
    ctx.fillStyle = "rgba(255,255,255,.62)";
    ctx.beginPath();
    ctx.roundRect(-178, -26, 356, 52, 7);
    ctx.fill();
    ctx.fillStyle = "#222";
    ctx.font = "36.6px 'DejaVu Sans'";
    ctx.textAlign = "center";
    ctx.textBaseline = "middle";
    ctx.fillText("Hitter Stands Here", 0, 1);
    ctx.restore();
  },
};

// ── Charts ────────────────────────────────────────────────────────────────────
function drawPanel(id, titleText, cells, side) {
  new Chart(document.getElementById(id), {
    data: { labels: columns, datasets: panelDatasets(cells) },
    plugins: [hitterLabel],
    options: {
      responsive: true, maintainAspectRatio: false, animation: false,
      layout: { padding: 0 },
      plugins: {
        legend: { display: false },
        tooltip: { enabled: false },
        hitterLabel: { side },
        title: {
          display: true, text: titleText, color: "#fff",
          font: { family: "DejaVu Sans", size: 37.2, weight: "normal" },
          padding: { top: 3.2, bottom: 3.16 },
        },
      },
      scales: {
        x:  { display: false, stacked: true, offset: true, grid: { offset: true } },
        y:  { display: false, stacked: true, min: 0, max: cells.length },
        xf: { display: false, type: "linear", min: -1.5, max: 1.5 },
        yf: { display: false, type: "linear", min: 0, max: 4.5 },
      },
    },
  });
}

drawPanel("leftChart",  "RHP vs LHH", leftCells,  "left");
drawPanel("rightChart", "RHP vs RHH", rightCells, "right");

new Chart(document.getElementById("barChart"), {
  type: "bar",
  data: {
    labels: ["scale"],
    datasets: [...barLevels].reverse().map(v => ({
      data: [1], backgroundColor: colorFor(v), borderWidth: 0,
      barPercentage: 1, categoryPercentage: 1,
    })),
  },
  options: {
    responsive: true, maintainAspectRatio: false, animation: false,
    layout: { padding: 0 },
    plugins: { legend: { display: false }, tooltip: { enabled: false } },
    scales: {
      x: { display: false, stacked: true },
      y: { display: false, stacked: true, min: 0, max: barLevels.length },
    },
  },
});
</script>
</body>
</html>
